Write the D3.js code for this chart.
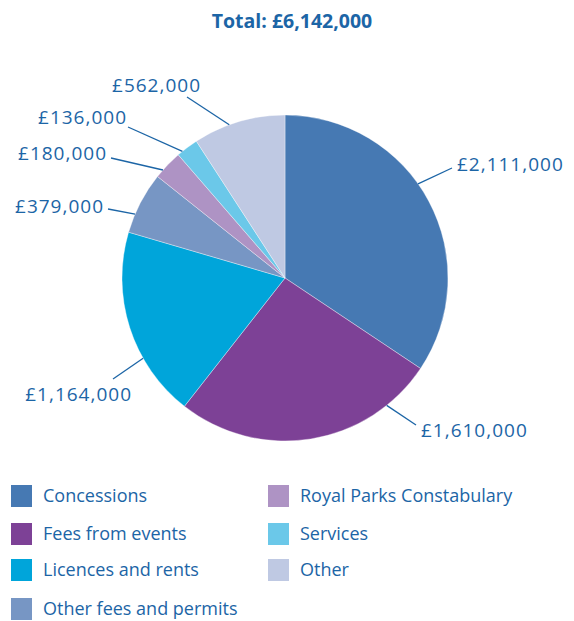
<!DOCTYPE html>
<html>
<head>
<meta charset="utf-8">
<script src="https://cdn.jsdelivr.net/npm/d3@7"></script>
<style>
  html, body { margin: 0; padding: 0; background: #ffffff; }
  svg { display: block; }
  text { font-family: "Open Sans", "DejaVu Sans", sans-serif; fill: #1c65a6; }
</style>
</head>
<body>
<svg id="chart" width="574" height="621"></svg>
<script>
// Income sources (£)
const categories = ["Concessions", "Fees from events", "Licences and rents",
  "Other fees and permits", "Royal Parks Constabulary", "Services", "Other"];
const values = [2111000, 1610000, 1164000, 379000, 180000, 136000, 562000];
const colors = ["#4679b3", "#7d4196", "#00a5da", "#7796c4", "#ae93c4", "#6bc8e9", "#bfc9e3"];

// Leader line placement for each value label: angle on the rim (deg, clockwise from top),
// outer end of the line, and which side the text sits on.
const labelLayout = [
  { angle: 54.7,  end: [452, 168], anchor: "start", dx: 5,  baseline: 171 },
  { angle: 141.4, end: [416, 425], anchor: "start", dx: 5,  baseline: 437 },
  { angle: 240.5, end: [113, 379], anchor: "end",   dx: 19, baseline: 401 },
  { angle: 293.1, end: [108, 209], anchor: "end",   dx: -4, baseline: 213 },
  { angle: 311.5, end: [111, 158], anchor: "end",   dx: -4, baseline: 160 },
  { angle: 321.0, end: [128, 127], anchor: "end",   dx: -1, baseline: 124 },
  { angle: 340.0, end: [187, 97],  anchor: "end",   dx: 14, baseline: 92 }
];

const svg = d3.select("#chart");
const cx = 285, cy = 278, r = 163;

const total = d3.sum(values);
const fmt = v => "£" + d3.format(",")(v);

svg.append("text")
  .attr("x", 292).attr("y", 28)
  .attr("text-anchor", "middle")
  .attr("font-size", 19.5)
  .attr("font-weight", 700)
  .text("Total: " + fmt(total));

const pie = d3.pie().sort(null).value(d => d)(values);
const arc = d3.arc().innerRadius(0).outerRadius(r);

const g = svg.append("g").attr("transform", `translate(${cx},${cy})`);
g.selectAll("path.slice")
  .data(pie)
  .join("path")
  .attr("class", "slice")
  .attr("d", arc)
  .attr("fill", (d, i) => colors[i])
  .attr("stroke", "#ffffff")
  .attr("stroke-opacity", 0.6)
  .attr("stroke-width", 0.6);

// Value labels with leader lines
const rad = a => a * Math.PI / 180;
labelLayout.forEach((L, i) => {
  const sx = cx + r * Math.sin(rad(L.angle));
  const sy = cy - r * Math.cos(rad(L.angle));
  svg.append("line")
    .attr("x1", sx).attr("y1", sy)
    .attr("x2", L.end[0]).attr("y2", L.end[1])
    .attr("stroke", "#1c65a6")
    .attr("stroke-width", 1.3);
  svg.append("text")
    .attr("x", L.end[0] + L.dx)
    .attr("y", L.baseline)
    .attr("text-anchor", L.anchor)
    .attr("font-size", 19)
    .attr("letter-spacing", 1)
    .text(fmt(values[i]));
});

// Legend: two columns
const legendCols = [[0, 1, 2, 3], [4, 5, 6]];
const colX = [11, 268];
const rowY = [485, 523, 559, 598];
legendCols.forEach((col, c) => {
  col.forEach((idx, row) => {
    const lg = svg.append("g").attr("transform", `translate(${colX[c]},${rowY[row]})`);
    lg.append("rect").attr("width", 21).attr("height", 22).attr("fill", colors[idx]);
    lg.append("text")
      .attr("x", 32).attr("y", 11)
      .attr("dy", "0.35em")
      .attr("font-size", 18)
      .text(categories[idx]);
  });
});
</script>
</body>
</html>
